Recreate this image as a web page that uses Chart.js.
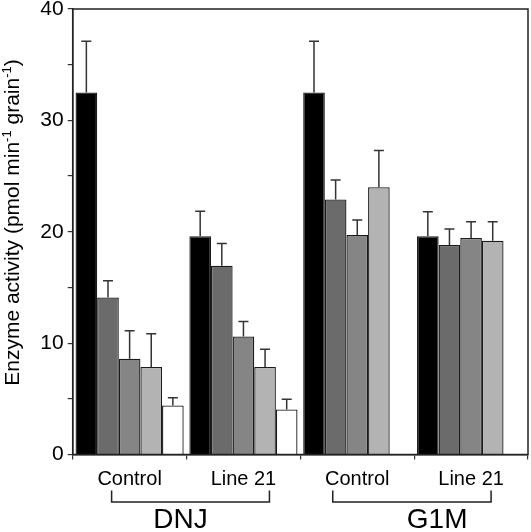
<!DOCTYPE html>
<html>
<head>
<meta charset="utf-8">
<script src="https://cdn.jsdelivr.net/npm/chart.js@4/dist/chart.umd.min.js"></script>
<style>
  html, body { margin: 0; padding: 0; background: #fff; }
  #wrap { width: 531px; height: 532px; }
</style>
</head>
<body>
<div id="wrap"><canvas id="c" width="531" height="532"></canvas></div>
<script>
// ---- data ----
const categories = ['Control', 'Line 21', 'Control', 'Line 21'];
const groupNames = ['DNJ', 'G1M'];
const yTicks = [0, 10, 20, 30, 40];

const blackVals = [32.5, 19.6, 32.5, 19.6];
const blackErr  = [4.6, 2.25, 4.6, 2.2];
const darkVals  = [14.1, 16.95, 22.9, 18.8];
const darkErr   = [1.5, 2.0, 1.75, 1.45];
const midVals   = [8.6, 10.6, 19.7, 19.45];
const midErr    = [2.5, 1.35, 1.35, 1.45];
const lightVals = [7.85, 7.85, 24.0, 19.2];
const lightErr  = [3.0, 1.6, 3.3, 1.7];
const whiteVals = [4.4, 4.05, null, null];
const whiteErr  = [0.7, 0.9, null, null];

const FONT = '"Liberation Sans", Arial, sans-serif';

const seriesDefs = [
  { data: blackVals, err: blackErr, color: '#000000' },
  { data: darkVals,  err: darkErr,  color: '#6b6b6b' },
  { data: midVals,   err: midErr,   color: '#858585' },
  { data: lightVals, err: lightErr, color: '#b3b3b3' },
  { data: whiteVals, err: whiteErr, color: '#ffffff' }
];

const datasets = seriesDefs.map(s => ({
  data: s.data,
  errors: s.err,
  backgroundColor: s.color,
  borderColor: '#1a1a1a',
  borderWidth: 1.3,
  categoryPercentage: 0.95,
  barPercentage: 1.0
}));

const errorBars = {
  id: 'errorBars',
  afterDatasetsDraw(chart) {
    const ctx = chart.ctx;
    const ys = chart.scales.y;
    ctx.save();
    ctx.strokeStyle = '#333';
    ctx.lineWidth = 1.5;
    chart.data.datasets.forEach((ds, di) => {
      const meta = chart.getDatasetMeta(di);
      meta.data.forEach((bar, i) => {
        const v = ds.data[i], e = ds.errors[i];
        if (v == null || e == null) return;
        const yTop = ys.getPixelForValue(v + e);
        const yBar = ys.getPixelForValue(v);
        ctx.beginPath();
        ctx.moveTo(bar.x, yBar);
        ctx.lineTo(bar.x, yTop);
        ctx.moveTo(bar.x - 5, yTop);
        ctx.lineTo(bar.x + 5, yTop);
        ctx.stroke();
      });
    });
    // frame
    const a = chart.chartArea;
    ctx.strokeStyle = '#222';
    ctx.lineWidth = 1.5;
    ctx.strokeRect(a.left, a.top, a.right - a.left, a.bottom - a.top);
    ctx.restore();
  }
};

const annotations = {
  id: 'annotations',
  afterDraw(chart) {
    const ctx = chart.ctx;
    const xs = chart.scales.x;
    const a = chart.chartArea;
    ctx.save();
    // brackets and group labels
    const brackets = [
      { from: 0, to: 1, offL: -18, offR: 26, textDx: -6, name: groupNames[0] },
      { from: 2, to: 3, offL: -24.5, offR: 20, textDx: 23, name: groupNames[1] }
    ];
    ctx.strokeStyle = '#222';
    ctx.lineWidth = 1.5;
    ctx.fillStyle = '#000';
    brackets.forEach(b => {
      const x1 = xs.getPixelForValue(b.from) + b.offL;
      const x2 = xs.getPixelForValue(b.to) + b.offR;
      const yTopB = a.bottom + 36;
      const yBot = a.bottom + 47.5;
      ctx.beginPath();
      ctx.moveTo(x1, yTopB);
      ctx.lineTo(x1, yBot);
      ctx.lineTo(x2, yBot);
      ctx.lineTo(x2, yTopB);
      ctx.stroke();
      ctx.font = '28px ' + FONT;
      ctx.textAlign = 'center';
      ctx.textBaseline = 'alphabetic';
      const cx = (xs.getPixelForValue(b.from) + xs.getPixelForValue(b.to)) / 2 + b.textDx;
      ctx.fillText(b.name, cx, 528);
    });

    // y axis title with superscripts, rotated
    const parts = [
      { t: 'Enzyme activity (pmol min', sup: false },
      { t: '-1', sup: true },
      { t: ' grain', sup: false },
      { t: '-1', sup: true },
      { t: ')', sup: false }
    ];
    const fs = 21, ss = 13;
    let total = 0;
    parts.forEach(p => {
      ctx.font = (p.sup ? ss : fs) + 'px ' + FONT;
      p.w = ctx.measureText(p.t).width;
      total += p.w;
    });
    const cy = 222.5;
    ctx.translate(18.5, cy);
    ctx.rotate(-Math.PI / 2);
    ctx.textAlign = 'left';
    ctx.textBaseline = 'alphabetic';
    let x = -total / 2;
    parts.forEach(p => {
      ctx.font = (p.sup ? ss : fs) + 'px ' + FONT;
      ctx.fillText(p.t, x, p.sup ? -8 : 0);
      x += p.w;
    });
    ctx.restore();
  }
};

new Chart(document.getElementById('c'), {
  type: 'bar',
  data: { labels: categories, datasets },
  options: {
    responsive: false,
    animation: false,
    events: [],
    layout: { padding: { top: 9, right: 3, left: 0, bottom: 0 } },
    plugins: { legend: { display: false }, tooltip: { enabled: false } },
    scales: {
      x: {
        grid: { display: true, drawOnChartArea: false, drawTicks: true, tickLength: 5, color: '#333', lineWidth: 1.2, offset: true },
        border: { display: true, color: '#222', width: 1.5 },
        ticks: { color: '#000', font: { family: FONT, size: 20 }, padding: 8, maxRotation: 0, autoSkip: false },
        afterFit(s) { s.height = 77.5; s.paddingLeft = 0; s.paddingRight = 0; }
      },
      y: {
        min: 0, max: 40,
        afterBuildTicks(s) {
          const t = [];
          for (let v = 0; v <= 40; v += 5) t.push({ value: v });
          s.ticks = t;
        },
        grid: { display: true, drawOnChartArea: false, drawTicks: true, tickLength: 5, color: '#333', lineWidth: 1.2 },
        border: { display: true, color: '#222', width: 1.5 },
        ticks: {
          color: '#000', font: { family: FONT, size: 21 }, padding: 4,
          callback: v => (yTicks.includes(v) ? String(v) : '')
        },
        afterFit(s) { s.width = 72.7; s.paddingTop = 0; s.paddingBottom = 0; }
      }
    }
  },
  plugins: [errorBars, annotations]
});
</script>
</body>
</html>
